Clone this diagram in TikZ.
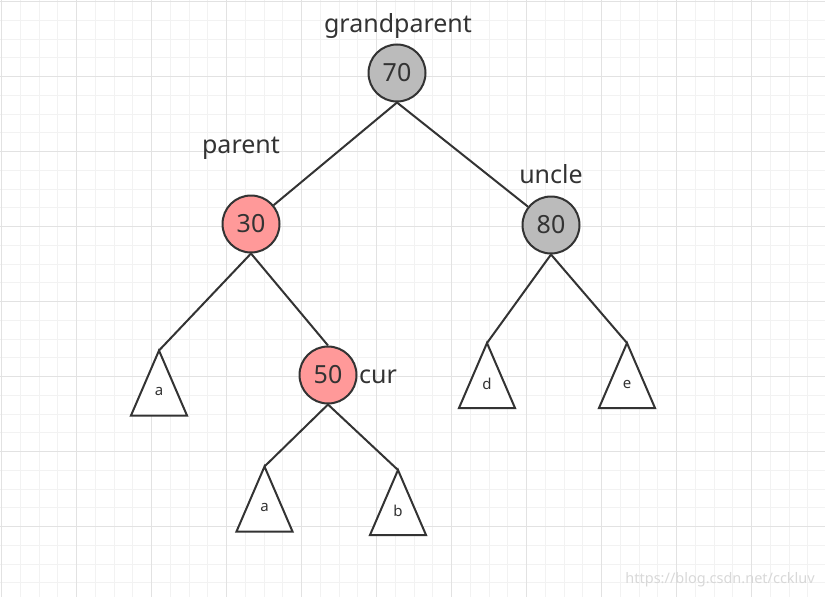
\documentclass[tikz,border=0pt]{standalone}
\usepackage{fontspec}
\setmainfont{Noto Sans}
\usetikzlibrary{calc}
\definecolor{ink}{HTML}{333333}
\definecolor{gfill}{HTML}{BBBBBB}
\definecolor{rfill}{HTML}{FF9999}
\definecolor{minorgrid}{HTML}{F2F2F2}
\definecolor{majorgrid}{HTML}{E2E2E2}
\definecolor{wmark}{HTML}{D8D8D8}
\begin{document}
\begin{tikzpicture}[x=1pt,y=-1pt,
  treenode/.style={circle,draw=ink,line width=2pt,minimum size=57pt,inner sep=0pt,
    font=\fontsize{25}{25}\selectfont,text=ink},
  blacknode/.style={treenode,fill=gfill},
  rednode/.style={treenode,fill=rfill},
  role/.style={font=\fontsize{25}{25}\selectfont,text=ink,anchor=base,inner sep=0pt},
  edge/.style={draw=ink,line width=2pt},
  subtree/.style={draw=ink,line width=2pt,fill=white,line join=miter},
  leaf/.style={font=\fontsize{15}{15}\selectfont,text=ink,inner sep=0pt}]
\useasboundingbox (0,0) rectangle (825,597);
% grid
\foreach \k in {0,...,44} {
  \draw[minorgrid,line width=1pt] ({1.5+18.75*\k},0) -- ({1.5+18.75*\k},597);
}
\foreach \k in {0,...,31} {
  \draw[minorgrid,line width=1pt] (0,{1.5+18.75*\k}) -- (825,{1.5+18.75*\k});
}
\foreach \k in {0,...,11} {
  \draw[majorgrid,line width=1pt] ({1.5+75*\k},0) -- ({1.5+75*\k},597);
}
\foreach \k in {0,...,7} {
  \draw[majorgrid,line width=1pt] (0,{1.5+75*\k}) -- (825,{1.5+75*\k});
}
% nodes
\node[blacknode] (g) at (397,73) {70};
\node[rednode] (p) at (251,224) {30};
\node[blacknode] (u) at (551,225) {80};
\node[rednode] (c) at (328,375) {50};
% role labels
\node[role] (lg) at (398,32) {grandparent};
\node[role] (lp) at (241,153) {parent};
\node[role] (lu) at (551,183) {uncle};
\node[role,anchor=base west] (lc) at (359,383) {cur};
% subtree apexes
\coordinate (ta) at (159,350.5);
\coordinate (tca) at (264.5,466.5);
\coordinate (tcb) at (398,470);
\coordinate (td) at (487,343);
\coordinate (te) at (627,343);
% connectors
\draw[edge] (g.south) -- (p);
\draw[edge] (g.south) -- (u);
\draw[edge] (p.south) -- (ta);
\draw[edge] (p.south) -- (c.north);
\draw[edge] (c.south) -- (tca);
\draw[edge] (c.south) -- (tcb);
\draw[edge] (u.south) -- (td);
\draw[edge] (u.south) -- (te);
% subtrees
\foreach \t/\lbl in {ta/a,tca/a,tcb/b,td/d,te/e} {
  \draw[subtree] (\t) -- ++(-28,65) -- ++(56,0) -- cycle;
  \node[leaf] (l\t) at ($(\t)+(0,41)$) {\lbl};
}
% watermark
\node[font=\fontsize{14.5}{14.5}\selectfont,text=wmark,anchor=base east,inner sep=0pt] (wm) at (815,583) {https://blog.csdn.net/cckluv};
\end{tikzpicture}
\end{document}
